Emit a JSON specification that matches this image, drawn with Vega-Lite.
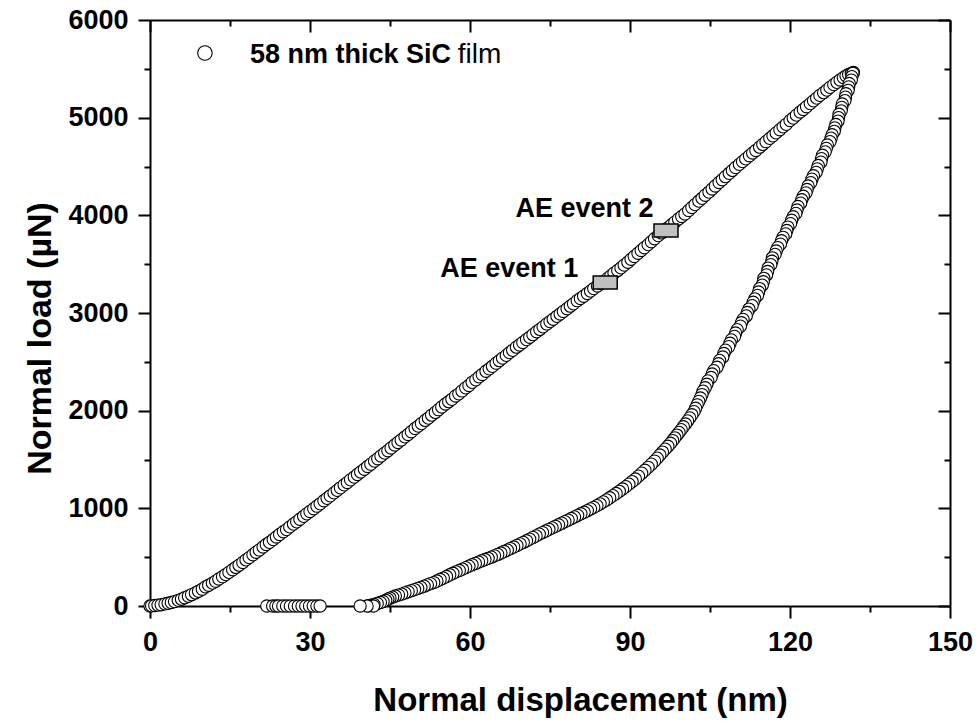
{
  "$schema": "https://vega.github.io/schema/vega-lite/v6.json",
  "autosize": {"type": "none"},
  "width": 800,
  "height": 586,
  "padding": {"left": 150, "top": 20, "right": 28, "bottom": 122},
  "background": "white",
  "view": {"stroke": null},
  "config": {"font": "Liberation Sans"},
  "datasets": {
    "pts": [
      {"x":0.0,"y":0},{"x":0.3,"y":2},{"x":0.9,"y":5},{"x":1.5,"y":9},{"x":2.1,"y":13},{"x":2.8,"y":22},{"x":3.4,"y":28},{"x":4.0,"y":36},{"x":4.6,"y":45},{"x":5.3,"y":58},{"x":5.9,"y":70},{"x":6.5,"y":84},{"x":7.2,"y":100},{"x":7.8,"y":116},{"x":8.5,"y":134},{"x":9.1,"y":151},{"x":9.8,"y":172},
      {"x":10.4,"y":196},{"x":11.0,"y":212},{"x":11.7,"y":234},{"x":12.3,"y":254},{"x":12.9,"y":276},{"x":13.6,"y":300},{"x":14.2,"y":322},{"x":14.8,"y":344},{"x":15.5,"y":371},{"x":16.1,"y":395},{"x":16.7,"y":418},{"x":17.4,"y":446},{"x":18.0,"y":472},{"x":18.6,"y":495},{"x":19.3,"y":525},{"x":19.9,"y":550},
      {"x":20.5,"y":574},{"x":21.2,"y":604},{"x":21.8,"y":630},{"x":22.4,"y":652},{"x":23.1,"y":680},{"x":23.7,"y":706},{"x":24.3,"y":732},{"x":25.0,"y":760},{"x":25.6,"y":782},{"x":26.2,"y":810},{"x":26.9,"y":838},{"x":27.5,"y":862},{"x":28.1,"y":888},{"x":28.8,"y":918},{"x":29.4,"y":944},{"x":30.0,"y":968},
      {"x":30.7,"y":996},{"x":31.3,"y":1022},{"x":31.9,"y":1046},{"x":32.6,"y":1078},{"x":33.2,"y":1102},{"x":33.8,"y":1128},{"x":34.5,"y":1158},{"x":35.1,"y":1184},{"x":35.7,"y":1210},{"x":36.4,"y":1240},{"x":37.0,"y":1264},{"x":37.6,"y":1292},{"x":38.3,"y":1320},{"x":38.9,"y":1346},{"x":39.5,"y":1372},{"x":40.2,"y":1400},
      {"x":40.8,"y":1428},{"x":41.4,"y":1452},{"x":42.1,"y":1484},{"x":42.7,"y":1508},{"x":43.3,"y":1536},{"x":44.0,"y":1566},{"x":44.6,"y":1590},{"x":45.2,"y":1618},{"x":45.9,"y":1648},{"x":46.5,"y":1674},{"x":47.1,"y":1700},{"x":47.8,"y":1732},{"x":48.4,"y":1756},{"x":49.0,"y":1784},{"x":49.7,"y":1818},{"x":50.3,"y":1842},
      {"x":50.9,"y":1868},{"x":51.6,"y":1900},{"x":52.2,"y":1924},{"x":52.8,"y":1954},{"x":53.5,"y":1982},{"x":54.1,"y":2010},{"x":54.7,"y":2038},{"x":55.4,"y":2068},{"x":56.0,"y":2092},{"x":56.6,"y":2116},{"x":57.3,"y":2150},{"x":57.9,"y":2172},{"x":58.5,"y":2202},{"x":59.2,"y":2234},{"x":59.8,"y":2258},
      {"x":60.4,"y":2290},{"x":61.1,"y":2316},{"x":61.7,"y":2346},{"x":62.3,"y":2370},{"x":63.0,"y":2404},{"x":63.6,"y":2428},{"x":64.2,"y":2454},{"x":64.9,"y":2486},{"x":65.5,"y":2512},{"x":66.1,"y":2538},{"x":66.8,"y":2566},{"x":67.4,"y":2594},{"x":68.0,"y":2618},{"x":68.7,"y":2650},{"x":69.3,"y":2672},{"x":69.9,"y":2698},
      {"x":70.6,"y":2728},{"x":71.2,"y":2752},{"x":71.8,"y":2778},{"x":72.5,"y":2808},{"x":73.1,"y":2832},{"x":73.7,"y":2858},{"x":74.4,"y":2888},{"x":75.0,"y":2912},{"x":75.6,"y":2936},{"x":76.3,"y":2966},{"x":76.9,"y":2990},{"x":77.5,"y":3016},{"x":78.2,"y":3044},{"x":78.8,"y":3070},{"x":79.4,"y":3094},
      {"x":80.1,"y":3126},{"x":80.7,"y":3148},{"x":81.3,"y":3172},{"x":82.0,"y":3200},{"x":82.6,"y":3224},{"x":83.2,"y":3250},{"x":83.9,"y":3276},{"x":84.5,"y":3302},{"x":85.1,"y":3324},{"x":85.8,"y":3354},{"x":86.4,"y":3380},{"x":87.0,"y":3408},{"x":87.7,"y":3436},{"x":88.3,"y":3462},{"x":88.9,"y":3490},{"x":89.6,"y":3520},
      {"x":90.2,"y":3550},{"x":90.8,"y":3578},{"x":91.5,"y":3612},{"x":92.1,"y":3640},{"x":92.7,"y":3668},{"x":93.4,"y":3700},{"x":94.0,"y":3730},{"x":94.6,"y":3760},{"x":95.3,"y":3792},{"x":95.9,"y":3820},{"x":96.5,"y":3850},{"x":97.2,"y":3876},{"x":97.8,"y":3904},{"x":98.4,"y":3930},{"x":99.1,"y":3962},{"x":99.7,"y":3988},
      {"x":100.3,"y":4014},{"x":101.0,"y":4050},{"x":101.6,"y":4080},{"x":102.2,"y":4110},{"x":102.9,"y":4146},{"x":103.5,"y":4174},{"x":104.1,"y":4206},{"x":104.8,"y":4238},{"x":105.4,"y":4270},{"x":106.0,"y":4300},{"x":106.7,"y":4336},{"x":107.3,"y":4364},{"x":107.9,"y":4396},{"x":108.6,"y":4430},{"x":109.2,"y":4460},{"x":109.8,"y":4490},
      {"x":110.5,"y":4522},{"x":111.1,"y":4550},{"x":111.7,"y":4578},{"x":112.4,"y":4610},{"x":113.0,"y":4638},{"x":113.6,"y":4664},{"x":114.3,"y":4698},{"x":114.9,"y":4726},{"x":115.5,"y":4754},{"x":116.2,"y":4788},{"x":116.8,"y":4814},{"x":117.4,"y":4844},{"x":118.1,"y":4876},{"x":118.7,"y":4906},{"x":119.3,"y":4932},
      {"x":120.0,"y":4970},{"x":120.6,"y":4996},{"x":121.2,"y":5026},{"x":121.9,"y":5058},{"x":122.5,"y":5084},{"x":123.1,"y":5112},{"x":123.8,"y":5144},{"x":124.4,"y":5172},{"x":125.0,"y":5200},{"x":125.6,"y":5228},{"x":126.3,"y":5256},{"x":126.9,"y":5282},{"x":127.5,"y":5310},{"x":128.2,"y":5338},{"x":128.8,"y":5362},{"x":129.4,"y":5386},
      {"x":130.0,"y":5410},{"x":130.5,"y":5428},{"x":131.0,"y":5442},{"x":131.5,"y":5454},{"x":131.9,"y":5462},
      {"x":131.8,"y":5455},{"x":131.6,"y":5420},{"x":131.5,"y":5385},{"x":131.1,"y":5350},{"x":131.0,"y":5315},{"x":130.9,"y":5280},{"x":130.5,"y":5245},{"x":130.4,"y":5210},{"x":130.3,"y":5175},{"x":129.8,"y":5140},{"x":129.7,"y":5105},{"x":129.6,"y":5070},{"x":129.2,"y":5035},{"x":129.1,"y":5000},{"x":129.0,"y":4965},
      {"x":128.6,"y":4930},{"x":128.4,"y":4895},{"x":128.3,"y":4860},{"x":127.9,"y":4825},{"x":127.7,"y":4790},{"x":127.5,"y":4755},{"x":127.0,"y":4720},{"x":126.8,"y":4685},{"x":126.6,"y":4650},{"x":126.1,"y":4615},{"x":125.9,"y":4580},{"x":125.8,"y":4545},{"x":125.3,"y":4510},{"x":125.1,"y":4475},{"x":124.9,"y":4440},
      {"x":124.4,"y":4405},{"x":124.1,"y":4370},{"x":123.9,"y":4335},{"x":123.4,"y":4300},{"x":123.2,"y":4265},{"x":123.0,"y":4230},{"x":122.5,"y":4195},{"x":122.2,"y":4160},{"x":122.0,"y":4125},{"x":121.5,"y":4090},{"x":121.3,"y":4055},{"x":121.1,"y":4020},{"x":120.6,"y":3985},{"x":120.3,"y":3950},{"x":120.1,"y":3915},
      {"x":119.6,"y":3880},{"x":119.4,"y":3845},{"x":119.2,"y":3810},{"x":118.7,"y":3775},{"x":118.4,"y":3740},{"x":118.2,"y":3705},{"x":117.7,"y":3670},{"x":117.4,"y":3635},{"x":117.2,"y":3600},{"x":116.7,"y":3565},{"x":116.6,"y":3530},{"x":116.4,"y":3495},{"x":115.9,"y":3460},{"x":115.8,"y":3425},{"x":115.6,"y":3390},
      {"x":115.1,"y":3355},{"x":115.0,"y":3320},{"x":114.8,"y":3285},{"x":114.3,"y":3250},{"x":114.1,"y":3215},{"x":113.9,"y":3180},{"x":113.4,"y":3145},{"x":113.1,"y":3110},{"x":112.9,"y":3075},{"x":112.3,"y":3040},{"x":112.0,"y":3005},{"x":111.8,"y":2970},{"x":111.2,"y":2935},{"x":110.9,"y":2900},{"x":110.7,"y":2865},
      {"x":110.1,"y":2830},{"x":109.8,"y":2795},{"x":109.6,"y":2760},{"x":109.0,"y":2725},{"x":108.75,"y":2690},{"x":108.5,"y":2655},{"x":107.9,"y":2620},{"x":107.6,"y":2585},{"x":107.4,"y":2550},{"x":106.8,"y":2515},{"x":106.6,"y":2480},{"x":106.3,"y":2445},{"x":105.7,"y":2410},{"x":105.4,"y":2375},{"x":105.2,"y":2340},
      {"x":104.6,"y":2305},{"x":104.4,"y":2270},{"x":104.1,"y":2235},{"x":103.7,"y":2200},{"x":103.5,"y":2165},{"x":103.2,"y":2130},{"x":102.9,"y":2095},{"x":102.6,"y":2060},{"x":102.3,"y":2025},
      {"x":102.0,"y":1990},{"x":101.6,"y":1958},{"x":101.2,"y":1926},{"x":100.8,"y":1895},{"x":100.4,"y":1864},{"x":100.0,"y":1835},{"x":99.6,"y":1806},{"x":99.2,"y":1778},{"x":98.8,"y":1750},{"x":98.4,"y":1722},{"x":98.0,"y":1694},{"x":97.6,"y":1666},{"x":97.1,"y":1636},{"x":96.6,"y":1606},{"x":96.1,"y":1576},
      {"x":95.6,"y":1546},{"x":95.1,"y":1514},{"x":94.6,"y":1484},{"x":94.0,"y":1452},{"x":93.4,"y":1420},{"x":92.8,"y":1390},{"x":92.2,"y":1360},{"x":91.6,"y":1330},
      {"x":91.0,"y":1300},{"x":90.4,"y":1274},{"x":89.8,"y":1248},{"x":89.2,"y":1222},{"x":88.6,"y":1198},{"x":88.0,"y":1174},{"x":87.4,"y":1152},{"x":86.8,"y":1130},{"x":86.2,"y":1108},{"x":85.6,"y":1086},{"x":85.0,"y":1066},{"x":84.4,"y":1046},{"x":83.8,"y":1028},{"x":83.2,"y":1010},{"x":82.6,"y":994},
      {"x":82.0,"y":976},{"x":81.4,"y":960},{"x":80.8,"y":945},{"x":80.2,"y":928},{"x":79.6,"y":912},{"x":79.0,"y":896},{"x":78.4,"y":880},{"x":77.8,"y":864},{"x":77.2,"y":848},{"x":76.6,"y":832},{"x":76.0,"y":816},{"x":75.4,"y":800},{"x":74.8,"y":785},{"x":74.2,"y":768},{"x":73.6,"y":752},
      {"x":73.0,"y":736},{"x":72.4,"y":718},{"x":71.8,"y":702},{"x":71.2,"y":685},{"x":70.6,"y":668},{"x":70.0,"y":651},{"x":69.4,"y":636},{"x":68.8,"y":620},{"x":68.2,"y":604},{"x":67.6,"y":588},{"x":67.0,"y":572},{"x":66.4,"y":558},{"x":65.8,"y":543},{"x":65.2,"y":528},{"x":64.6,"y":514},
      {"x":64.0,"y":500},{"x":63.4,"y":488},{"x":62.8,"y":476},{"x":62.2,"y":463},{"x":61.6,"y":450},{"x":61.0,"y":436},{"x":60.4,"y":422},{"x":59.8,"y":408},{"x":59.2,"y":393},{"x":58.6,"y":378},{"x":58.0,"y":364},{"x":57.4,"y":350},{"x":56.8,"y":335},{"x":56.2,"y":320},{"x":55.6,"y":302},
      {"x":55.0,"y":286},{"x":54.4,"y":271},{"x":53.8,"y":256},{"x":53.2,"y":240},{"x":52.6,"y":229},{"x":52.0,"y":216},{"x":51.4,"y":203},{"x":50.8,"y":191},{"x":50.2,"y":180},{"x":49.6,"y":168},{"x":49.0,"y":157},{"x":48.4,"y":146},{"x":47.8,"y":134},{"x":47.2,"y":122},{"x":46.6,"y":112},
      {"x":46.0,"y":102},{"x":45.5,"y":91},{"x":45.0,"y":81},{"x":44.6,"y":70},{"x":44.2,"y":58},{"x":43.7,"y":46},{"x":43.2,"y":36},{"x":42.6,"y":26},{"x":42.0,"y":16},{"x":41.4,"y":8},{"x":41.0,"y":3},{"x":41.9,"y":0},{"x":40.7,"y":0},{"x":39.4,"y":0},
      {"x":21.9,"y":0},{"x":23.0,"y":0},{"x":23.6,"y":0},{"x":24.1,"y":0},{"x":24.9,"y":0},{"x":25.6,"y":0},{"x":26.3,"y":0},{"x":27.1,"y":0},{"x":27.8,"y":0},{"x":28.5,"y":0},{"x":29.2,"y":0},{"x":29.9,"y":0},{"x":30.6,"y":0},{"x":31.3,"y":0},{"x":31.9,"y":0}
    ],
    "events": [
      {"x1": 83.1, "x2": 87.6, "y1": 3246, "y2": 3379, "label": "AE event 1", "lx": 80.3, "ly": 3372},
      {"x1": 94.5, "x2": 99.0, "y1": 3778, "y2": 3911, "label": "AE event 2", "lx": 94.4, "ly": 3986}
    ],
    "legend": [
      {"cx": 10.3, "cy": 5662, "bx": 18.75, "by": 5560, "bold": "58 nm thick SiC", "fx": 57.7, "plain": "film"}
    ]
  },
  "layer": [
    {
      "data": {"name": "pts"},
      "mark": {"type": "circle", "fill": "white", "stroke": "black", "strokeWidth": 1.1, "size": 150, "opacity": 1, "fillOpacity": 1, "clip": false},
      "encoding": {
        "x": {
          "field": "x", "type": "quantitative",
          "scale": {"domain": [0, 150], "nice": false, "zero": false},
          "axis": {
            "orient": "bottom", "grid": false,
            "values": [0, 15, 30, 45, 60, 75, 90, 105, 120, 135, 150],
            "labelExpr": "datum.value % 30 === 0 ? datum.label : ''",
            "tickSize": {"condition": {"test": "datum.value % 30 === 0", "value": 12}, "value": 6},
            "tickWidth": 2, "tickColor": "black", "domainWidth": 2, "domainColor": "black",
            "labelFont": "Liberation Sans", "labelFontSize": 27, "labelFontWeight": "bold", "labelColor": "black",
            "labelPadding": 11, "labelFlush": false, "labelOverlap": false, "labelBound": false,
            "title": "Normal displacement (nm)",
            "titleFont": "Liberation Sans", "titleFontSize": 33, "titleFontWeight": "bold", "titleColor": "black",
            "titleBaseline": "alphabetic", "titleX": 430, "titleY": 104
          }
        },
        "y": {
          "field": "y", "type": "quantitative",
          "scale": {"domain": [0, 6000], "nice": false, "zero": false},
          "axis": {
            "orient": "left", "grid": false,
            "values": [0, 500, 1000, 1500, 2000, 2500, 3000, 3500, 4000, 4500, 5000, 5500, 6000],
            "labelExpr": "datum.value % 1000 === 0 ? datum.label : ''",
            "format": "d",
            "tickSize": {"condition": {"test": "datum.value % 1000 === 0", "value": 12}, "value": 6},
            "tickWidth": 2, "tickColor": "black", "domainWidth": 2, "domainColor": "black",
            "labelFont": "Liberation Sans", "labelFontSize": 27, "labelFontWeight": "bold", "labelColor": "black",
            "labelPadding": 10, "labelFlush": false, "labelOverlap": false, "labelBound": false,
            "title": "Normal load (µN)",
            "titleFont": "Liberation Sans", "titleFontSize": 34, "titleFontWeight": "bold", "titleColor": "black",
            "titleBaseline": "alphabetic", "titleAngle": 270, "titleX": -100, "titleY": 318
          }
        }
      }
    },
    {
      "data": {"name": "events"},
      "mark": {"type": "rect", "fill": "#c0c0c0", "stroke": "black", "strokeWidth": 1.5},
      "encoding": {
        "x": {
          "field": "x1", "type": "quantitative",
          "axis": {
            "orient": "top", "grid": false, "labels": false, "title": null,
            "values": [0, 15, 30, 45, 60, 75, 90, 105, 120, 135, 150],
            "tickSize": {"condition": {"test": "datum.value % 30 === 0", "value": -12}, "value": -6},
            "tickWidth": 2, "tickColor": "black", "domainWidth": 2, "domainColor": "black"
          }
        },
        "x2": {"field": "x2"},
        "y": {
          "field": "y1", "type": "quantitative",
          "axis": {
            "orient": "right", "grid": false, "labels": false, "title": null,
            "values": [0, 500, 1000, 1500, 2000, 2500, 3000, 3500, 4000, 4500, 5000, 5500, 6000],
            "tickSize": {"condition": {"test": "datum.value % 1000 === 0", "value": -12}, "value": -6},
            "tickWidth": 2, "tickColor": "black", "domainWidth": 2, "domainColor": "black"
          }
        },
        "y2": {"field": "y2"}
      }
    },
    {
      "data": {"name": "events"},
      "mark": {"type": "text", "align": "right", "baseline": "alphabetic", "font": "Liberation Sans", "fontSize": 27, "fontWeight": "bold", "color": "black"},
      "encoding": {
        "x": {"field": "lx", "type": "quantitative", "axis": null},
        "y": {"field": "ly", "type": "quantitative", "axis": null},
        "text": {"field": "label"}
      }
    },
    {
      "data": {"name": "legend"},
      "mark": {"type": "circle", "fill": "white", "stroke": "black", "strokeWidth": 1.1, "size": 210, "opacity": 1, "fillOpacity": 1},
      "encoding": {
        "x": {"field": "cx", "type": "quantitative", "axis": null},
        "y": {"field": "cy", "type": "quantitative", "axis": null}
      }
    },
    {
      "data": {"name": "legend"},
      "mark": {"type": "text", "align": "left", "baseline": "alphabetic", "font": "Liberation Sans", "fontSize": 27, "fontWeight": "bold", "color": "black"},
      "encoding": {
        "x": {"field": "bx", "type": "quantitative", "axis": null},
        "y": {"field": "by", "type": "quantitative", "axis": null},
        "text": {"field": "bold"}
      }
    },
    {
      "data": {"name": "legend"},
      "mark": {"type": "text", "align": "left", "baseline": "alphabetic", "font": "Liberation Sans", "fontSize": 28, "fontWeight": "normal", "color": "black"},
      "encoding": {
        "x": {"field": "fx", "type": "quantitative", "axis": null},
        "y": {"field": "by", "type": "quantitative", "axis": null},
        "text": {"field": "plain"}
      }
    }
  ],
  "resolve": {"axis": {"x": "independent", "y": "independent"}}
}
